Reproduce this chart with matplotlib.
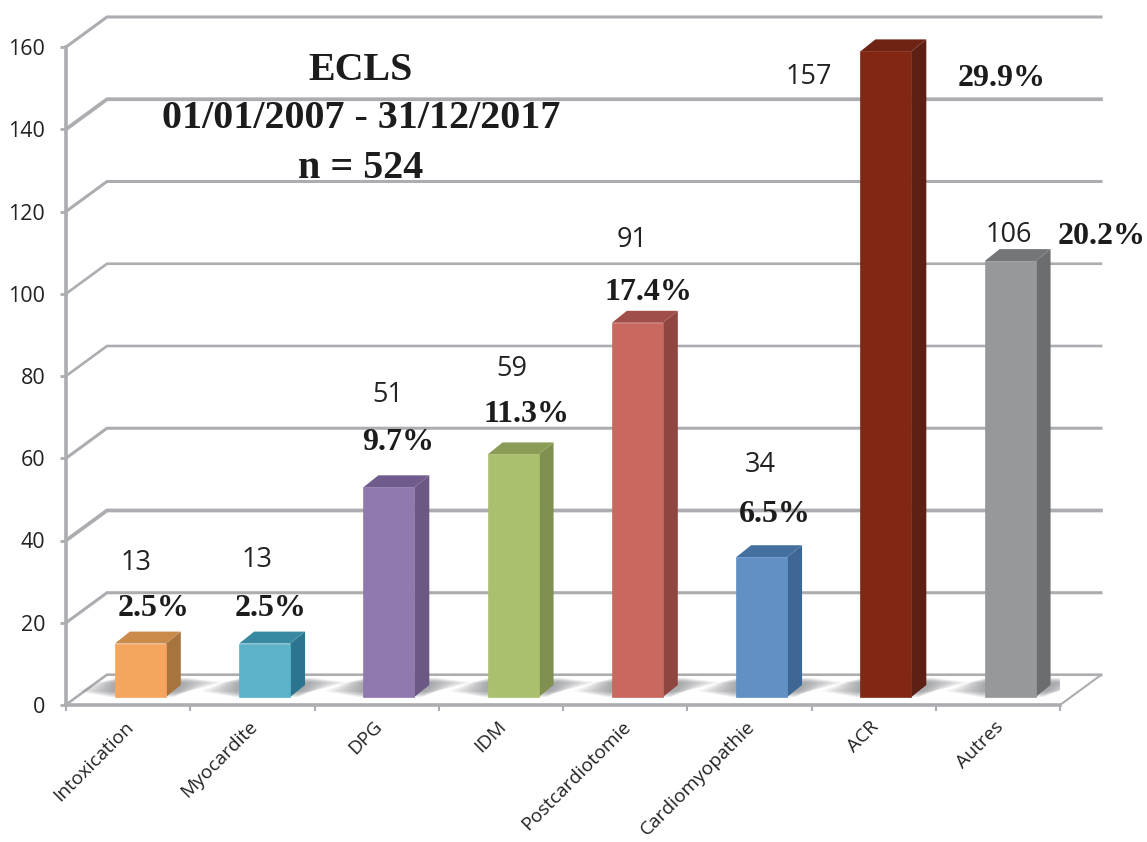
import numpy as np
import matplotlib
matplotlib.use('Agg')
import matplotlib.pyplot as plt
from matplotlib.patches import Polygon

categories = ['Intoxication', 'Myocardite', 'DPG', 'IDM', 'Postcardiotomie',
              'Cardiomyopathie', 'ACR', 'Autres']
counts = [13, 13, 51, 59, 91, 34, 157, 106]
percents = ['2.5%', '2.5%', '9.7%', '11.3%', '17.4%', '6.5%', '29.9%', '20.2%']
yticks = [0, 20, 40, 60, 80, 100, 120, 140, 160]
title_lines = ['ECLS', '01/01/2007 - 31/12/2017', 'n = 524']

# styles
front_cols = ['#f5a55e', '#5cb3c9', '#8f79ae', '#abc06e', '#c8685f', '#6090c4', '#822714', '#97989b']
top_cols = ['#c98a4a', '#3a89a3', '#6f5c8c', '#8a9c55', '#a04f48', '#44709f', '#6e2315', '#747578']
side_cols = ['#a8743e', '#2b7590', '#6b5885', '#7f9050', '#8f4540', '#3e6795', '#5c2015', '#6c6d6f']
grid_widths = [2.2, 2.2, 2.7, 2.2, 1.9, 1.9, 2.2, 2.7, 2.2]
grid_col = '#abadb0'

# label centres in pixels of the picture
count_pos = [(136, 563), (257, 560), (388, 395), (512, 369), (632, 240), (760, 465), (809, 77), (1009, 235)]
pct_pos = [(154, 609), (271, 609), (398, 443), (526, 414), (648, 292), (775, 514), (1002, 78), (1102, 236)]
title_pos = [(361, 71), (361, 118), (361, 168)]

W, H = 1147, 842
fig = plt.figure(figsize=(W / 100, H / 100), dpi=100)
ax = fig.add_axes([66 / W, (H - 705) / H, (1060 - 66) / W, (705 - 47) / H])
ax.set_xlim(0, 8)
ax.set_ylim(0, 160)
for s in ax.spines.values():
    s.set_visible(False)
ax.patch.set_alpha(0)

def px_text(pos, txt, **kw):
    fig.text(pos[0] / W, 1 - pos[1] / H, txt, ha='center', va='center', **kw)

# depth of the box and of the bars, in data units
dx, dy = 0.33, 7.3
bar_left, bar_w, bar_base = 0.394, 0.41, 1.95
bar_dx, bar_dy = 0.12, 2.9

# floor
ax.add_patch(Polygon([(0, 0), (8, 0), (8 + dx, dy), (dx, dy)], closed=True, fc='white',
                     ec=grid_col, lw=1.5, zorder=2, clip_on=False))

# grid, running from the left wall to the back wall
for v, lw in zip(yticks, grid_widths):
    ax.plot([0, dx, 8 + dx], [v, v + dy, v + dy], color=grid_col, lw=lw, zorder=1,
            clip_on=False, solid_joinstyle='miter')

# front edge and left wall
ax.plot([0, 8], [0, 0], color=grid_col, lw=2.6, zorder=3, clip_on=False)
ax.plot([0, 0], [0, 160], color=grid_col, lw=2.6, zorder=3, clip_on=False)

ax.set_yticks(yticks)
ax.set_yticklabels([str(v) for v in yticks], family='Open Sans', fontsize=15.5, color='#222222')
ax.tick_params(axis='y', length=4, width=2, color=grid_col, pad=11)
ax.set_xticks(np.arange(9))
ax.set_xticklabels([''] * 9)
ax.tick_params(axis='x', length=4, width=1.5, color=grid_col)

# category names, rotated
ax.set_xticks(np.arange(8) + 0.47, minor=True)
ax.set_xticklabels(categories, minor=True, rotation=45, ha='right', rotation_mode='anchor',
                   family='Open Sans', fontsize=13.8, color='#222222')
ax.tick_params(axis='x', which='minor', length=0, pad=9)

# soft shadows on the floor and the bars
n_shadow = 16
for i, c in enumerate(counts):
    x0 = i + bar_left
    x1 = x0 + bar_w
    for k in range(n_shadow):
        f = 1 - k / n_shadow
        grow = 0.3 * f
        low = bar_base - 0.2 + 1.6 * f
        high = dy - 0.6 - 1.2 * f
        ax.add_patch(Polygon([(x0 - 0.02 - grow, low), (x1 + 0.05 + grow * 0.4, low),
                              (x1 + bar_dx + 0.05 + grow, high), (x0 + 0.02 - grow * 0.5, high)],
                             closed=True, fc='#6f7378', ec='none', alpha=0.05, zorder=2.5))
    top = bar_base + c
    ax.add_patch(Polygon([(x1, bar_base), (x1 + bar_dx, bar_base + bar_dy),
                          (x1 + bar_dx, top + bar_dy), (x1, top)], closed=True,
                         fc=side_cols[i], ec='none', zorder=4, clip_on=False))
    ax.add_patch(Polygon([(x0, top), (x1, top), (x1 + bar_dx, top + bar_dy), (x0 + bar_dx, top + bar_dy)],
                         closed=True, fc=top_cols[i], ec='none', zorder=4, clip_on=False))
    ax.bar(x0, c, width=bar_w, bottom=bar_base, align='edge', color=front_cols[i],
           edgecolor=front_cols[i], linewidth=0.5, zorder=5, clip_on=False)

for pos, c in zip(count_pos, counts):
    px_text(pos, str(c), family='Open Sans', fontsize=19.5, color='#222222')
for pos, p in zip(pct_pos, percents):
    px_text(pos, p, family='Liberation Serif', fontweight='bold', fontsize=23, color='#1c1c1c')
for pos, t in zip(title_pos, title_lines):
    px_text(pos, t, family='Liberation Serif', fontweight='bold', fontsize=28.8, color='#1c1c1c')

fig.savefig('out.png', dpi=100)
